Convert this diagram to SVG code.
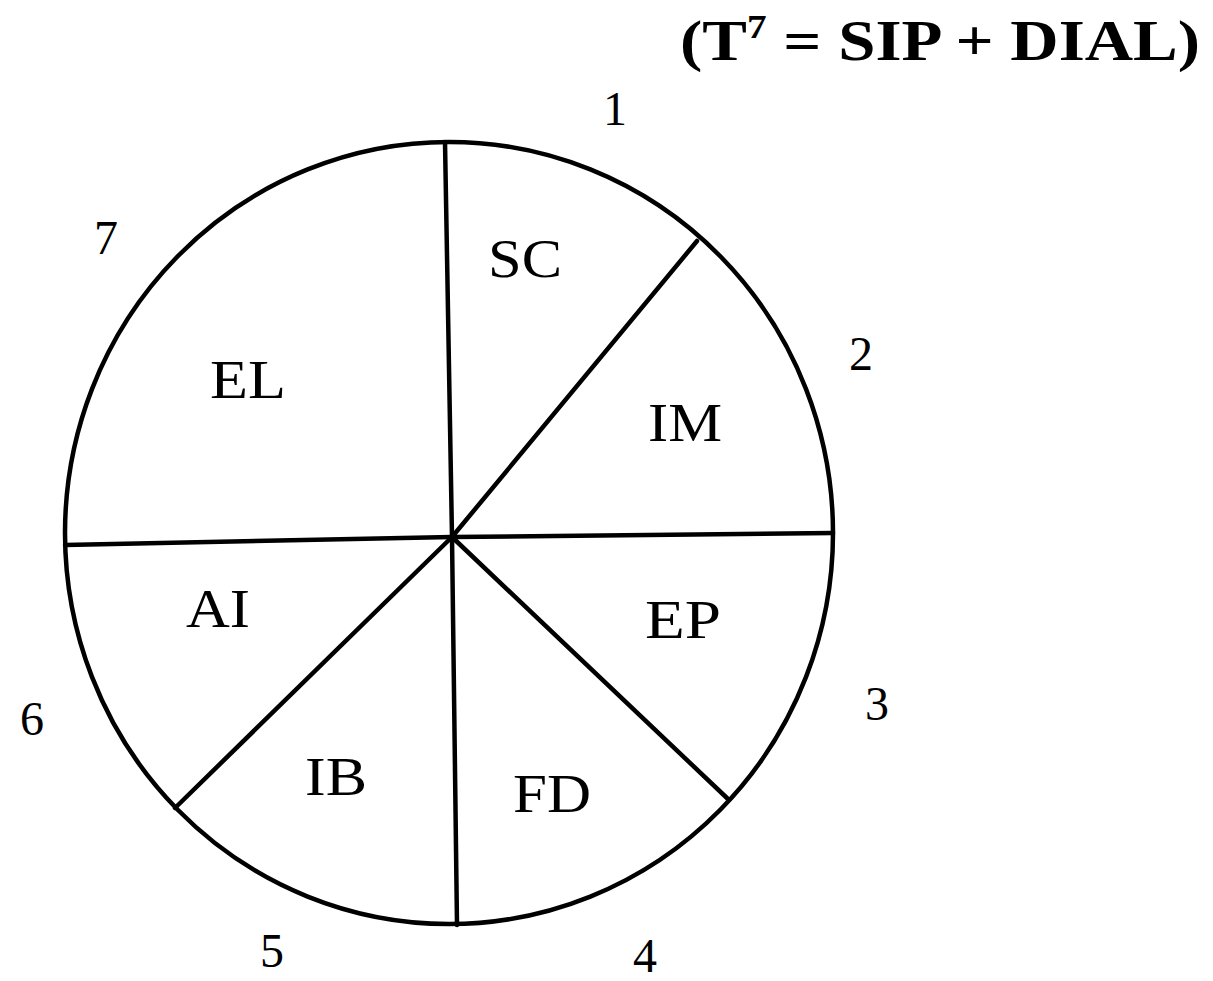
<svg xmlns="http://www.w3.org/2000/svg" width="1213" height="981" viewBox="0 0 1213 981">
<style>
.lbl{font-family:"Liberation Serif",serif;font-size:54px;fill:#000;text-anchor:middle}
.num{font-family:"Liberation Serif",serif;font-size:48px;fill:#000;text-anchor:middle}
.ttl{font-family:"Liberation Serif",serif;font-size:58px;font-weight:bold;fill:#000}
.ln{stroke:#000;stroke-width:4.5;fill:none;stroke-linecap:round}
</style>
<rect width="1213" height="981" fill="#fff"/>
<text class="ttl" x="680" y="60" textLength="520" lengthAdjust="spacingAndGlyphs">(T<tspan dy="-22" font-size="34">7</tspan><tspan dy="22"> = SIP + DIAL)</tspan></text>
<g id="circle"><ellipse class="ln" cx="449" cy="533" rx="384" ry="391"/></g>
<g id="connectors">
<line class="ln" x1="452" y1="537" x2="445" y2="142"/>
<line class="ln" x1="452" y1="537" x2="697" y2="241"/>
<line class="ln" x1="452" y1="537" x2="833" y2="533"/>
<line class="ln" x1="452" y1="537" x2="728" y2="799"/>
<line class="ln" x1="452" y1="537" x2="457" y2="925"/>
<line class="ln" x1="452" y1="537" x2="175" y2="808"/>
<line class="ln" x1="452" y1="537" x2="65" y2="545"/>
</g>
<g id="SC"><text class="lbl" x="525" y="277" textLength="74" lengthAdjust="spacingAndGlyphs">SC</text></g>
<g id="IM"><text class="lbl" x="685" y="441" textLength="74" lengthAdjust="spacingAndGlyphs">IM</text></g>
<g id="EL"><text class="lbl" x="248" y="398" textLength="76" lengthAdjust="spacingAndGlyphs">EL</text></g>
<g id="AI"><text class="lbl" x="218" y="627" textLength="64" lengthAdjust="spacingAndGlyphs">AI</text></g>
<g id="EP"><text class="lbl" x="683" y="638" textLength="76" lengthAdjust="spacingAndGlyphs">EP</text></g>
<g id="IB"><text class="lbl" x="336" y="795" textLength="62" lengthAdjust="spacingAndGlyphs">IB</text></g>
<g id="FD"><text class="lbl" x="552" y="812" textLength="78" lengthAdjust="spacingAndGlyphs">FD</text></g>
<g id="numbers">
<text class="num" x="615" y="125">1</text>
<text class="num" x="861" y="370">2</text>
<text class="num" x="877" y="720">3</text>
<text class="num" x="645" y="972">4</text>
<text class="num" x="272" y="967">5</text>
<text class="num" x="32" y="735">6</text>
<text class="num" x="106" y="254">7</text>
</g>
</svg>
